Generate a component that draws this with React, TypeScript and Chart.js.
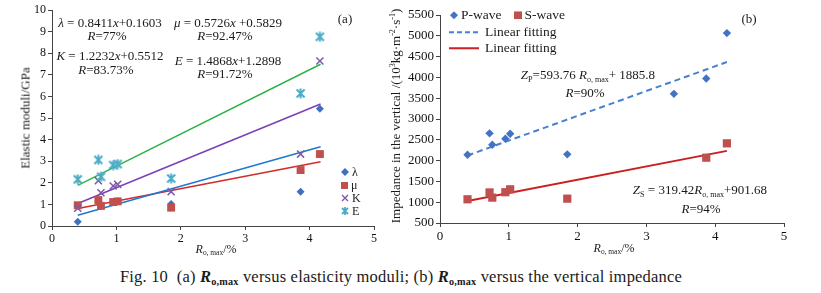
import React, { useEffect, useRef } from 'react';
import { Chart, registerables } from 'chart.js';
Chart.register(...registerables);

// ---------- Panel (a) data ----------
const xA = [0.40, 0.72, 0.76, 0.95, 1.02, 1.85, 3.86, 4.16];
const lambdaVals = [0.20, 1.15, 0.95, 1.10, 1.15, 1.02, 1.59, 5.43];
const muVals = [0.96, 1.20, 0.93, 1.11, 1.14, 0.85, 2.59, 3.33];
const kVals = [0.82, 2.10, 1.54, 1.85, 1.93, 1.59, 3.33, 7.64];
const eVals = [2.16, 3.06, 2.28, 2.82, 2.87, 2.20, 6.14, 8.76];
const fitXA = [0.40, 4.17];
const fitLambda = [0.50, 3.67];
const fitMu = [0.81, 2.97];
const fitK = [1.04, 5.65];
const fitE = [1.88, 7.49];
const xTicks = [0, 1, 2, 3, 4, 5];
const yTicksA = [0, 1, 2, 3, 4, 5, 6, 7, 8, 9, 10];

// ---------- Panel (b) data ----------
const xP = [0.40, 0.72, 0.76, 0.95, 1.02, 1.85, 3.40, 3.87, 4.17];
const pWave = [2140, 2655, 2380, 2525, 2645, 2150, 3605, 3975, 5065];
const xS = [0.40, 0.72, 0.76, 0.95, 1.02, 1.85, 3.87, 4.17];
const sWave = [1070, 1235, 1110, 1240, 1310, 1085, 2070, 2415];
const fitXB = [0.40, 4.17];
const fitP = [2123, 4370];
const fitS = [1029, 2234];
const yTicksB = [500, 1000, 1500, 2000, 2500, 3000, 3500, 4000, 4500, 5000, 5500];

const SERIF = "'Liberation Serif', 'Times New Roman', serif";

const pts = (xs: number[], ys: number[]) => xs.map((x, i) => ({ x, y: ys[i] }));

function makeStar(color: string) {
  const c = document.createElement('canvas');
  c.width = 11; c.height = 11;
  const g = c.getContext('2d')!;
  g.strokeStyle = color; g.lineWidth = 2;
  g.beginPath();
  g.moveTo(1.5, 1.5); g.lineTo(9.5, 9.5);
  g.moveTo(9.5, 1.5); g.lineTo(1.5, 9.5);
  g.moveTo(5.5, 0.5); g.lineTo(5.5, 10.5);
  g.stroke();
  return c;
}

function axis(ticks: number[], size: number, fit: (s: any) => void) {
  return {
    type: 'linear',
    min: ticks[0],
    max: ticks[ticks.length - 1],
    grid: { display: true, drawOnChartArea: false, drawTicks: true, tickLength: 4, color: '#444', lineWidth: 1 },
    border: { display: true, color: '#444', width: 1 },
    ticks: { color: '#111', font: { family: SERIF, size }, padding: 2, callback: (v: any) => String(v) },
    afterBuildTicks: (a: any) => { a.ticks = ticks.map((v) => ({ value: v })); },
    afterFit: fit,
  };
}

const baseOpts = (padding: any, xs: any, ys: any) => ({
  responsive: false,
  animation: false,
  devicePixelRatio: 1,
  layout: { padding },
  plugins: { legend: { display: false }, tooltip: { enabled: false } },
  scales: { x: xs, y: ys },
});

const line = (data: any, color: string, extra: any = {}) => ({
  data, showLine: true, borderColor: color, borderWidth: 1.5, pointRadius: 0, fill: false, order: 5, ...extra,
});

const Txt = ({ x, y, size = 13, rotate = false, spacing = 0, children }: any) => (
  <div style={{
    position: 'absolute', left: x, top: y,
    transform: `translate(-50%,-50%)${rotate ? ' rotate(-90deg)' : ''}`,
    fontSize: size, lineHeight: 1, whiteSpace: 'nowrap', fontFamily: SERIF, color: '#1a1a1a',
    letterSpacing: spacing,
  }}>{children}</div>
);

const LTxt = ({ x, y, size = 13, children }: any) => (
  <div style={{
    position: 'absolute', left: x, top: y, transform: 'translateY(-50%)',
    fontSize: size, lineHeight: 1, whiteSpace: 'nowrap', fontFamily: SERIF, color: '#1a1a1a',
    display: 'flex', alignItems: 'center',
  }}>{children}</div>
);

const Sub = ({ children }: any) => (
  <span style={{ fontSize: '0.62em', verticalAlign: '-0.3em' }}>{children}</span>
);
const Sup = ({ children }: any) => (
  <span style={{ fontSize: '0.62em', verticalAlign: '0.5em' }}>{children}</span>
);

const Diamond = ({ c, s = 8 }: any) => (
  <svg width={s} height={s} style={{ marginRight: 3 }}><polygon points={`${s / 2},0 ${s},${s / 2} ${s / 2},${s} 0,${s / 2}`} fill={c} /></svg>
);
const Square = ({ c, s = 8 }: any) => (
  <svg width={s} height={s} style={{ marginRight: 3 }}><rect x={0} y={0} width={s} height={s} fill={c} /></svg>
);
const CrossM = ({ c }: any) => (
  <svg width={8} height={8} style={{ marginRight: 3 }}><path d="M1,1 L7,7 M7,1 L1,7" stroke={c} strokeWidth={1.4} /></svg>
);
const StarM = ({ c }: any) => (
  <svg width={8} height={8} style={{ marginRight: 3 }}><path d="M1,1 L7,7 M7,1 L1,7 M4,0 L4,8" stroke={c} strokeWidth={1.8} /></svg>
);

export default function App() {
  const refA = useRef<HTMLCanvasElement>(null);
  const refB = useRef<HTMLCanvasElement>(null);

  useEffect(() => {
    const star = makeStar('#4bacc6');
    const chartA = new Chart(refA.current!, {
      type: 'scatter',
      data: {
        datasets: [
          { data: pts(xA, lambdaVals), pointStyle: 'rectRot', pointRadius: 4, backgroundColor: '#3f6fbf', borderColor: '#3f6fbf', borderWidth: 0, order: 4 },
          { data: pts(xA, muVals), pointStyle: 'rect', pointRadius: 5.6, backgroundColor: '#c0504d', borderColor: '#c0504d', borderWidth: 0, order: 3 },
          { data: pts(xA, kVals), pointStyle: 'crossRot', pointRadius: 5, borderColor: '#7b5aa6', borderWidth: 1.5, order: 2 },
          { data: pts(xA, eVals), pointStyle: star, pointRadius: 5, borderColor: '#4bacc6', order: 1 },
          line(pts(fitXA, fitE), '#2fb34a'),
          line(pts(fitXA, fitK), '#7b3fb8'),
          line(pts(fitXA, fitLambda), '#1f78d1'),
          line(pts(fitXA, fitMu), '#d42a2a'),
        ] as any,
      },
      options: baseOpts(
        { top: 10, right: 26, left: 0, bottom: 0 },
        axis(xTicks, 12, (s: any) => { s.height = 36; }),
        axis(yTicksA, 12, (s: any) => { s.width = 52; }),
      ) as any,
    });
    const chartB = new Chart(refB.current!, {
      type: 'scatter',
      data: {
        datasets: [
          { data: pts(xP, pWave), pointStyle: 'rectRot', pointRadius: 4.2, backgroundColor: '#4472c4', borderColor: '#4472c4', borderWidth: 0, order: 2 },
          { data: pts(xS, sWave), pointStyle: 'rect', pointRadius: 5.8, backgroundColor: '#c0504d', borderColor: '#c0504d', borderWidth: 0, order: 1 },
          line(pts(fitXB, fitP), '#4a7fd0', { borderWidth: 2, borderDash: [6, 4] }),
          line(pts(fitXB, fitS), '#cc1f1f', { borderWidth: 2 }),
        ] as any,
      },
      options: baseOpts(
        { top: 15, right: 37, left: 0, bottom: 0 },
        axis(xTicks, 13, (s: any) => { s.height = 39; }),
        axis(yTicksB, 13, (s: any) => { s.width = 60; }),
      ) as any,
    });
    return () => { chartA.destroy(); chartB.destroy(); };
  }, []);

  return (
    <div style={{ position: 'absolute', left: 0, top: 0, width: 821, height: 293, background: '#fff', overflow: 'hidden', fontFamily: SERIF }}>
      <canvas ref={refA} width={400} height={262} style={{ position: 'absolute', left: 0, top: 0 }} />
      <canvas ref={refB} width={441} height={262} style={{ position: 'absolute', left: 380, top: 0 }} />

      {/* Panel (a) annotations */}
      <Txt x={110} y={22}><i>λ</i> = 0.8411<i>x</i>+0.1603</Txt>
      <Txt x={107} y={35}><i>R</i>=77%</Txt>
      <Txt x={110} y={55}><i>K</i> = 1.2232<i>x</i>+0.5512</Txt>
      <Txt x={106} y={69}><i>R</i>=83.73%</Txt>
      <Txt x={228} y={22}><i>μ</i> = 0.5726<i>x</i> +0.5829</Txt>
      <Txt x={225} y={35}><i>R</i>=92.47%</Txt>
      <Txt x={228} y={60}><i>E</i> = 1.4868<i>x</i>+1.2898</Txt>
      <Txt x={225} y={73}><i>R</i>=91.72%</Txt>
      <Txt x={345} y={18}>(a)</Txt>
      <Txt x={25} y={118} rotate>Elastic moduli/GPa</Txt>
      <Txt x={216} y={250} size={12}><i>R</i><Sub>o, max</Sub>/%</Txt>
      <LTxt x={341} y={172} size={12}><Diamond c="#3f6fbf" s={8} />λ</LTxt>
      <LTxt x={341} y={185} size={12}><Square c="#c0504d" s={7} />μ</LTxt>
      <LTxt x={341} y={198} size={12}><CrossM c="#7b5aa6" />K</LTxt>
      <LTxt x={341} y={211} size={12}><StarM c="#4bacc6" />E</LTxt>

      {/* Panel (b) annotations */}
      <LTxt x={450} y={15} size={13.5}><Diamond c="#4472c4" s={8} />P-wave<span style={{ width: 12 }} /><Square c="#c0504d" s={8} />S-wave</LTxt>
      <LTxt x={449} y={32} size={13.5}><svg width={30} height={4} style={{ marginRight: 6 }}><line x1={0} y1={2} x2={30} y2={2} stroke="#4a7fd0" strokeWidth={2} strokeDasharray="5,3" /></svg>Linear fitting</LTxt>
      <LTxt x={449} y={48} size={13.5}><svg width={30} height={4} style={{ marginRight: 6 }}><line x1={0} y1={2} x2={30} y2={2} stroke="#cc1f1f" strokeWidth={2} /></svg>Linear fitting</LTxt>
      <Txt x={588} y={76}><i>Z</i><Sub>P</Sub>=593.76 <i>R</i><Sub>o, max</Sub>+ 1885.8</Txt>
      <Txt x={585} y={92}><i>R</i>=90%</Txt>
      <Txt x={700} y={191}><i>Z</i><Sub>S</Sub> = 319.42<i>R</i><Sub>o, max</Sub>+901.68</Txt>
      <Txt x={701} y={208}><i>R</i>=94%</Txt>
      <Txt x={749} y={18}>(b)</Txt>
      <Txt x={395} y={116} rotate>Impedance in the vertical /(10<Sup>3</Sup>kg·m<Sup>-2</Sup>·s<Sup>-1</Sup>)</Txt>
      <Txt x={614} y={249} size={12}><i>R</i><Sub>o, max</Sub>/%</Txt>

      {/* Caption */}
      <Txt x={401} y={278} size={16.5} spacing={0.2}>Fig. 10&nbsp;&nbsp;(a) <b><i>R</i><Sub>o,max</Sub></b> versus elasticity moduli; (b) <b><i>R</i><Sub>o,max</Sub></b> versus the vertical impedance</Txt>
    </div>
  );
}
